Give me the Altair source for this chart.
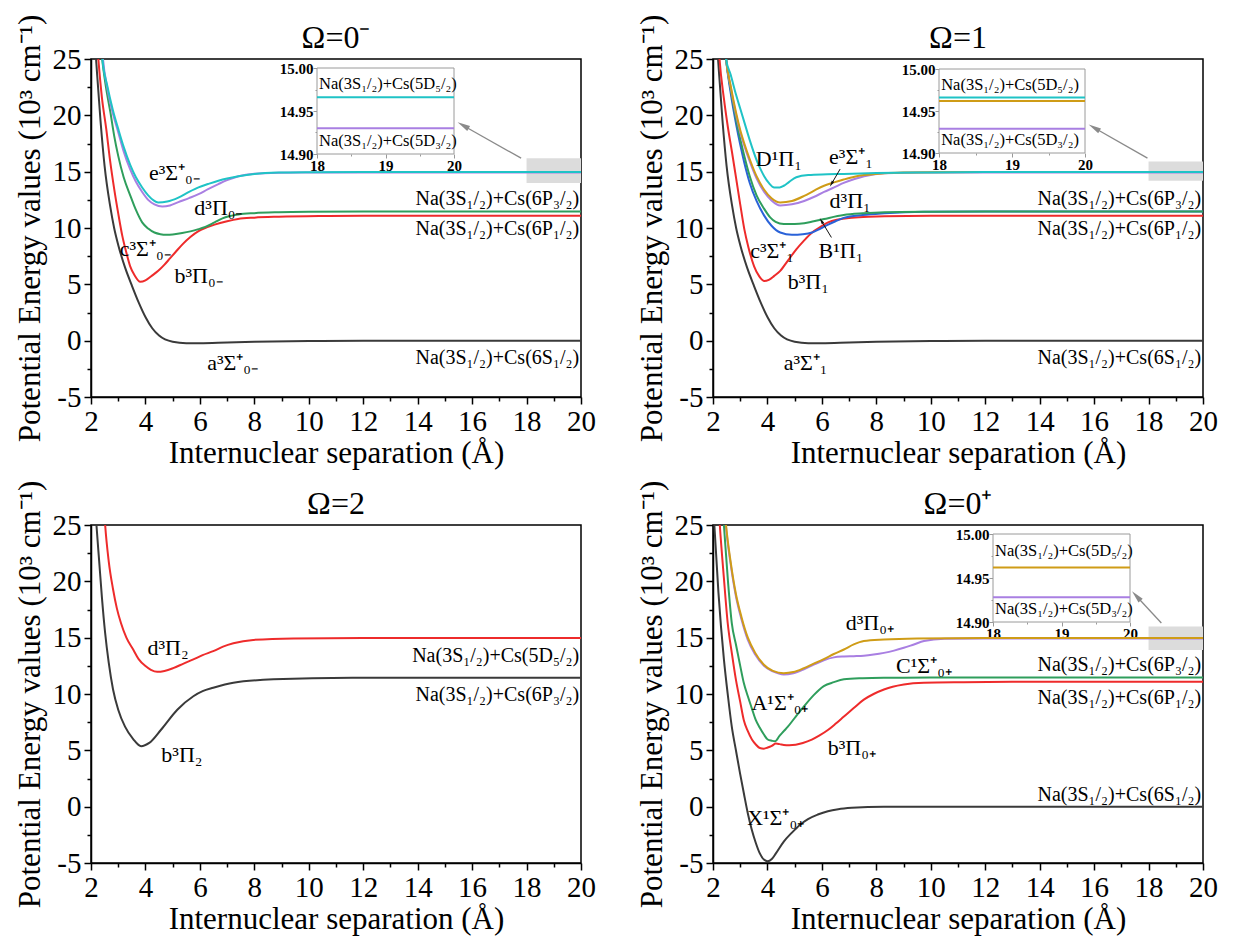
import math
import altair as alt
import pandas as pd

FONT = "Liberation Serif"
W, H = 490, 338
XDOM = [2, 20]
YDOM = [-5, 25]

# ---------------- data: Omega = 0- ----------------
A_R = [2.1, 2.2, 2.35, 2.5, 2.7, 2.85, 3.0, 3.25, 3.5, 3.75, 4.0, 4.25, 4.5, 5.0, 5.5, 6.0, 7.0, 8.0, 10, 12, 20]
A_E = [28, 24.5, 19.5, 15.5, 12.0, 10.0, 8.5, 6.5, 4.9, 3.4, 2.1, 1.1, 0.45, -0.1, -0.22, -0.22, -0.16, -0.1, -0.04, 0, 0]

B0m_R = [2.15, 2.27, 2.4, 2.56, 2.7, 2.85, 3.0, 3.15, 3.3, 3.44, 3.6, 3.81, 4.0, 4.2, 4.47, 4.7, 4.9, 5.1, 5.36, 5.65, 5.95, 6.25, 6.54, 7.0, 7.4, 8.0, 8.9, 10.4, 12, 20]
B0m_E = [29, 25, 21.6, 18.8, 16.0, 13.5, 11.3, 9.3, 7.8, 6.6, 5.8, 5.22, 5.35, 5.7, 6.2, 6.75, 7.3, 7.85, 8.55, 9.2, 9.72, 10.05, 10.3, 10.6, 10.8, 10.92, 11.0, 11.06, 11.08, 11.08]

C0m_R = [2.3, 2.41, 2.55, 2.71, 2.85, 3.0, 3.2, 3.44, 3.65, 3.88, 4.1, 4.33, 4.55, 4.77, 5.0, 5.35, 5.65, 5.95, 6.2, 6.54, 6.83, 7.42, 8.0, 8.9, 10.0, 12, 20]
C0m_E = [28, 25, 22.5, 20.3, 18.2, 16.4, 14.5, 12.9, 11.6, 10.5, 9.95, 9.6, 9.45, 9.4, 9.42, 9.55, 9.7, 9.9, 10.1, 10.5, 10.85, 11.2, 11.32, 11.4, 11.44, 11.46, 11.47]

D0m_R = [2.35, 2.44, 2.6, 2.8, 3.0, 3.2, 3.44, 3.65, 3.88, 4.1, 4.33, 4.62, 4.9, 5.21, 5.6, 5.95, 6.3, 6.68, 7.0, 7.42, 8.0, 8.9, 10, 12, 20]
D0m_E = [28, 25, 22.4, 20.2, 18.5, 16.8, 15.2, 14.1, 13.2, 12.5, 12.1, 11.9, 12.0, 12.3, 12.65, 13.0, 13.45, 13.9, 14.25, 14.6, 14.82, 14.9, 14.925, 14.928, 14.928]

E0m_R = [2.33, 2.42, 2.6, 2.8, 3.0, 3.2, 3.44, 3.65, 3.88, 4.1, 4.3, 4.47, 4.8, 5.21, 5.6, 5.95, 6.3, 6.68, 7.0, 7.42, 8.0, 8.9, 10, 12, 20]
E0m_E = [28, 25, 22.6, 20.5, 18.8, 17.2, 15.6, 14.5, 13.6, 12.9, 12.45, 12.27, 12.35, 12.7, 13.2, 13.6, 13.9, 14.2, 14.4, 14.6, 14.8, 14.92, 14.95, 14.966, 14.966]

# ---------------- data: Omega = 1 ----------------
B1_R = [2.14, 2.24, 2.4, 2.55, 2.7, 2.85, 3.0, 3.15, 3.3, 3.51, 3.7, 3.88, 4.05, 4.25, 4.47, 4.75, 5.06, 5.35, 5.64, 5.95, 6.23, 6.6, 7.1, 7.7, 8.3, 10, 12, 20]
B1_E = [29, 25, 21.5, 18.9, 16.7, 14.4, 12.1, 9.9, 8.3, 6.6, 5.7, 5.3, 5.4, 5.75, 6.2, 7.1, 8.1, 8.9, 9.6, 10.1, 10.5, 10.75, 10.9, 11.0, 11.05, 11.08, 11.08, 11.08]

BB1_R = [2.38, 2.48, 2.65, 2.85, 3.0, 3.15, 3.35, 3.6, 3.88, 4.15, 4.47, 4.9, 5.3, 5.64, 5.95, 6.23, 6.5, 6.8, 7.5, 8.3, 9.76, 12, 20]
BB1_E = [28, 25, 22.0, 19.2, 17.4, 15.8, 14.0, 12.4, 11.1, 10.2, 9.6, 9.4, 9.45, 9.6, 9.95, 10.3, 10.6, 10.9, 11.15, 11.3, 11.44, 11.47, 11.47]

C1_R = [2.38, 2.48, 2.65, 2.85, 3.0, 3.15, 3.35, 3.6, 3.88, 4.1, 4.3, 4.6, 5.0, 5.35, 5.7, 6.08, 6.8, 7.5, 8.3, 10, 12, 20]
C1_E = [28, 25, 22.3, 19.6, 17.9, 16.4, 14.6, 12.9, 11.7, 10.95, 10.55, 10.35, 10.35, 10.42, 10.6, 10.8, 11.15, 11.3, 11.4, 11.45, 11.47, 11.47]

D1_R = [2.38, 2.48, 2.65, 2.85, 3.0, 3.15, 3.35, 3.6, 3.88, 4.15, 4.47, 4.9, 5.35, 5.7, 6.08, 6.45, 6.8, 7.2, 7.55, 8.3, 9.76, 12, 20]
D1_E = [28, 25, 22.5, 20.0, 18.5, 17.3, 15.9, 14.4, 13.2, 12.45, 12.0, 12.1, 12.4, 12.75, 13.2, 13.6, 14.0, 14.35, 14.6, 14.87, 14.93, 14.928, 14.928]

E1_R = [2.38, 2.48, 2.65, 2.85, 3.0, 3.15, 3.35, 3.6, 3.88, 4.15, 4.47, 4.9, 5.35, 5.7, 6.08, 6.45, 6.8, 7.2, 7.55, 8.3, 9.0, 10, 12, 20]
E1_E = [28, 25, 22.6, 20.2, 18.7, 17.5, 16.1, 14.6, 13.4, 12.65, 12.27, 12.4, 12.85, 13.3, 13.75, 14.05, 14.3, 14.55, 14.7, 14.87, 14.93, 14.955, 14.962, 14.962]

DD1_R = [2.38, 2.48, 2.65, 2.85, 3.0, 3.15, 3.35, 3.59, 3.75, 3.88, 4.05, 4.25, 4.45, 4.6, 4.8, 5.06, 5.5, 6.2, 6.8, 8.0, 9.76, 12, 20]
DD1_E = [28.5, 25, 23.6, 21.8, 20.6, 19.4, 17.8, 16.1, 15.2, 14.6, 14.0, 13.6, 13.6, 13.75, 14.1, 14.5, 14.7, 14.76, 14.8, 14.88, 14.93, 14.966, 14.966]

# ---------------- data: Omega = 2 ----------------
B2_R = [2.1, 2.2, 2.3, 2.4, 2.52, 2.65, 2.81, 3.0, 3.25, 3.55, 3.84, 4.14, 4.58, 5.17, 5.76, 6.1, 6.49, 7.23, 8.7, 11.6, 20]
B2_E = [29, 25, 21.8, 18.6, 15.4, 12.8, 10.4, 8.6, 7.1, 6.0, 5.37, 5.66, 6.85, 8.6, 9.8, 10.25, 10.55, 11.0, 11.3, 11.44, 11.45]

D2_R = [2.42, 2.52, 2.65, 2.81, 2.95, 3.1, 3.3, 3.55, 3.75, 3.99, 4.2, 4.43, 4.7, 5.02, 5.4, 5.76, 6.1, 6.49, 6.85, 7.23, 7.96, 9.44, 12, 20]
D2_E = [29, 25, 21.8, 19.3, 17.6, 16.3, 15.0, 13.95, 13.1, 12.5, 12.15, 11.97, 12.05, 12.3, 12.7, 13.07, 13.45, 13.8, 14.2, 14.5, 14.8, 14.93, 14.96, 14.96]

# ---------------- data: Omega = 0+ ----------------
X0p_R = [1.98, 2.05, 2.2, 2.4, 2.55, 2.69, 2.85, 2.99, 3.14, 3.28, 3.42, 3.57, 3.72, 3.87, 4.01, 4.16, 4.31, 4.6, 4.9, 5.2, 5.49, 5.85, 6.22, 6.6, 7.1, 8.28, 10, 20]
X0p_E = [28, 25, 19.0, 13.1, 9.8, 7.1, 4.9, 3.0, 1.1, -0.6, -2.0, -3.2, -4.15, -4.7, -4.85, -4.65, -4.15, -3.1, -2.3, -1.6, -1.1, -0.7, -0.4, -0.22, -0.1, 0, 0, 0]

B0p_R = [2.15, 2.25, 2.4, 2.54, 2.7, 2.84, 3.0, 3.13, 3.28, 3.43, 3.58, 3.72, 3.87, 4.01, 4.16, 4.31, 4.45, 4.6, 4.8, 5.04, 5.3, 5.63, 5.9, 6.22, 6.5, 6.81, 7.17, 7.54, 7.9, 8.28, 8.6, 9.01, 9.75, 11.2, 13, 20]
B0p_E = [29, 25, 20.3, 16.3, 13.5, 11.3, 9.3, 7.7, 6.7, 5.96, 5.5, 5.2, 5.15, 5.25, 5.4, 5.6, 5.55, 5.48, 5.46, 5.5, 5.65, 5.95, 6.3, 6.8, 7.35, 8.0, 8.75, 9.5, 10.0, 10.4, 10.65, 10.85, 11.0, 11.05, 11.08, 11.08]

A0p_R = [2.3, 2.4, 2.55, 2.69, 2.85, 3.0, 3.13, 3.28, 3.43, 3.57, 3.72, 3.87, 4.01, 4.16, 4.28, 4.45, 4.6, 4.75, 5.04, 5.34, 5.7, 6.07, 6.44, 6.81, 7.5, 8.28, 10, 20]
A0p_E = [28, 25, 20.0, 16.3, 14.3, 12.5, 11.0, 9.8, 8.7, 7.7, 7.0, 6.4, 5.96, 5.85, 5.8, 6.3, 6.7, 7.1, 8.0, 8.9, 9.9, 10.7, 11.05, 11.3, 11.4, 11.44, 11.46, 11.47]

C0p_R = [2.37, 2.47, 2.65, 2.84, 3.05, 3.28, 3.55, 3.87, 4.2, 4.6, 4.95, 5.34, 5.7, 6.07, 6.44, 6.81, 7.17, 7.54, 7.9, 8.28, 8.65, 9.01, 9.38, 9.75, 10.5, 12, 20]
C0p_E = [28, 25, 21.5, 18.7, 16.6, 14.8, 13.5, 12.5, 12.0, 11.73, 11.85, 12.2, 12.6, 13.0, 13.25, 13.33, 13.36, 13.4, 13.5, 13.65, 13.85, 14.1, 14.4, 14.7, 14.9, 14.928, 14.928]

D0p_R = [2.37, 2.47, 2.65, 2.84, 3.05, 3.28, 3.55, 3.87, 4.2, 4.6, 4.95, 5.34, 5.7, 6.07, 6.44, 6.81, 7.17, 7.54, 8.28, 9.5, 12, 20]
D0p_E = [28.2, 25.2, 21.7, 18.9, 16.8, 15.0, 13.65, 12.6, 12.05, 11.85, 11.95, 12.3, 12.7, 13.1, 13.55, 13.95, 14.4, 14.7, 14.84, 14.93, 14.962, 14.962]

# ---------------- labels ----------------
NA_6S = "Na(3S₁/₂)+Cs(6S₁/₂)"
NA_6P1 = "Na(3S₁/₂)+Cs(6P₁/₂)"
NA_6P3 = "Na(3S₁/₂)+Cs(6P₃/₂)"
NA_5D3 = "Na(3S₁/₂)+Cs(5D₃/₂)"
NA_5D5 = "Na(3S₁/₂)+Cs(5D₅/₂)"

TL_STATES = [("e³Σ⁺₀₋", 5.06, 14.9), ("d³Π₀₋", 6.68, 11.8), ("c³Σ⁺₀₋", 3.99, 8.1),
             ("b³Π₀₋", 5.95, 5.75), ("a³Σ⁺₀₋", 7.2, -2.0)]
TL_ASYM = [(NA_6P3, 12.6), (NA_6P1, 9.9), (NA_6S, -1.5)]
TR_STATES = [("D¹Π₁", 4.42, 16.1), ("e³Σ⁺₁", 7.07, 16.3), ("d³Π₁", 7.04, 12.4),
             ("c³Σ⁺₁", 4.17, 8.0), ("B¹Π₁", 6.7, 8.0), ("b³Π₁", 5.5, 5.2), ("a³Σ⁺₁", 5.4, -1.95)]
TR_ASYM = [(NA_6P3, 12.56), (NA_6P1, 9.9), (NA_6S, -1.5)]
BL_STATES = [("d³Π₂", 4.83, 14.1), ("b³Π₂", 5.34, 4.6)]
BL_ASYM = [(NA_5D5, 13.4), (NA_6P3, 9.87)]
BR_STATES = [("d³Π₀₊", 7.76, 16.3), ("C¹Σ⁺₀₊", 9.75, 12.5), ("A¹Σ⁺₀₊", 4.46, 9.2),
             ("b³Π₀₊", 7.1, 5.2), ("X¹Σ⁺₀₊", 4.3, -1.0)]
BR_ASYM = [(NA_6P3, 12.53), (NA_6P1, 9.66), (NA_6S, 1.07)]

# inset asymptote levels (10^3 cm^-1)
TL_INSET = [("cyan", 14.966), ("purple", 14.930)]
TR_INSET = [("cyan", 14.966), ("gold", 14.962), ("purple", 14.929)]
BR_INSET = [("gold", 14.962), ("purple", 14.928)]

COLORS = {"black": "#3a3a3a", "red": "#ee2b2b", "green": "#2f9e5c", "purple": "#a97fe2",
          "cyan": "#1fc3c6", "blue": "#2a62d8", "gold": "#cf9c17"}

# ---------------- axes ----------------
X_AXIS = alt.Axis(values=list(range(2, 21)),
                  labelExpr="datum.value % 2 === 0 ? datum.label : ''",
                  tickSize={"condition": {"test": "datum.value % 2 === 0", "value": 7}, "value": 4},
                  labelOverlap=False, labelFlush=False, labelPadding=3, titlePadding=2,
                  title="Internuclear separation (Å)")
Y_AXIS = alt.Axis(values=[-5 + 2.5 * i for i in range(13)],
                  labelExpr="datum.value % 5 === 0 ? replace(datum.label, '\u2212', '-') : ''",
                  tickSize={"condition": {"test": "datum.value % 5 === 0", "value": 7}, "value": 4},
                  labelOverlap=False, labelFlush=False, labelPadding=3, titlePadding=6,
                  title="Potential Energy values (10³ cm⁻¹)")


def xe(field):
    return alt.X(f"{field}:Q", scale=alt.Scale(domain=XDOM, nice=False, zero=False), axis=X_AXIS)


def ye(field):
    return alt.Y(f"{field}:Q", scale=alt.Scale(domain=YDOM, nice=False, zero=False), axis=Y_AXIS)


def curves_df(curves):
    rows = []
    for name, col, R, E in curves:
        for r, e in zip(R, E):
            rows.append({"r": r, "E": e, "state": name, "c": COLORS[col]})
    return pd.DataFrame(rows)


def arrow_layers(tail, head, color, width, size):
    dxp = (head[0] - tail[0]) * W / 18.0
    dyp = -(head[1] - tail[1]) * H / 30.0
    ang = math.degrees(math.atan2(dxp, -dyp)) % 360
    seg = pd.DataFrame({"r": [tail[0], head[0]], "E": [tail[1], head[1]]})
    tip = pd.DataFrame({"r": [head[0]], "E": [head[1]]})
    line = alt.Chart(seg).mark_line(color=color, strokeWidth=width).encode(x=xe("r"), y=ye("E"))
    pt = alt.Chart(tip).mark_point(shape="M0,-1L-0.45,1L0.45,1Z", filled=True, opacity=1,
                                   color=color, size=size, angle=ang).encode(x=xe("r"), y=ye("E"))
    return [line, pt]


def inset_layer(levels, px):
    L, R, T, B = px
    xs = alt.Scale(domain=[18, 20], range=[L, R], nice=False, zero=False)
    ys = alt.Scale(domain=[14.9, 15.0], range=[B, T], nice=False, zero=False)
    ixa = alt.Axis(orient="bottom", offset=B - H, values=[18, 18.5, 19, 19.5, 20], format=".0f",
                   labelExpr="datum.value % 1 === 0 ? datum.label : ''",
                   tickSize={"condition": {"test": "datum.value % 1 === 0", "value": 4}, "value": 2},
                   labelFont=FONT, labelFontSize=15, labelFontWeight="bold", labelPadding=0,
                   labelOverlap=False, labelFlush=False, domain=False,
                   tickColor="#999999", tickWidth=1, title=None, grid=False)
    iya = alt.Axis(orient="left", offset=-L, values=[14.9, 14.925, 14.95, 14.975, 15.0], format=".2f",
                   labelExpr="abs(datum.value*20 - round(datum.value*20)) < 0.001 ? datum.label : ''",
                   tickSize={"condition": {"test": "abs(datum.value*20 - round(datum.value*20)) < 0.001", "value": 4}, "value": 2},
                   labelFont=FONT, labelFontSize=15, labelFontWeight="bold", labelPadding=0,
                   labelOverlap=False, labelFlush=False, domain=False,
                   tickColor="#999999", tickWidth=1, title=None, grid=False)
    X = lambda f: alt.X(f"{f}:Q", scale=xs, axis=ixa)
    Y = lambda f: alt.Y(f"{f}:Q", scale=ys, axis=iya)
    frame = alt.Chart(pd.DataFrame({"a": [18], "b": [20], "c": [14.9], "d": [15.0]})).mark_rect(
        fill="white", stroke="#9a9a9a", strokeWidth=1).encode(x=X("a"), x2="b", y=Y("c"), y2="d")
    rows = []
    for i, (col, v) in enumerate(levels):
        rows += [{"r": 18, "E": v, "k": i, "c": COLORS[col]}, {"r": 20, "E": v, "k": i, "c": COLORS[col]}]
    lines = alt.Chart(pd.DataFrame(rows)).mark_line(strokeWidth=2).encode(
        x=X("r"), y=Y("E"), color=alt.Color("c:N", scale=None), detail="k:N")
    txt = pd.DataFrame({"r": [18.03, 18.03], "E": [14.981, 14.915], "t": [NA_5D5, NA_5D3]})
    texts = alt.Chart(txt).mark_text(font=FONT, fontSize=16.5, align="left", baseline="middle",
                                     color="black").encode(x=X("r"), y=Y("E"), text="t:N")
    return alt.layer(frame, lines, texts)


def panel(title, curves, states, asym, box=None, arrow=None, inset=None, pointers=()):
    layers = []
    if box is not None:
        bdf = pd.DataFrame({"x1": [18], "x2": [20], "y1": [box[0]], "y2": [box[1]]})
        layers.append(alt.Chart(bdf).mark_rect(color="#dcdcdc").encode(
            x=xe("x1"), x2="x2", y=ye("y1"), y2="y2"))
    if arrow is not None:
        layers += arrow_layers(arrow[0], arrow[1], "#8a8a8a", 1.3, 160)
    layers.append(alt.Chart(curves_df(curves)).mark_line(strokeWidth=2, interpolate="monotone", clip=True).encode(
        x=xe("r"), y=ye("E"), color=alt.Color("c:N", scale=None), detail="state:N"))
    sdf = pd.DataFrame({"t": [s[0] for s in states], "r": [s[1] for s in states], "E": [s[2] for s in states]})
    layers.append(alt.Chart(sdf).mark_text(font=FONT, fontSize=22, align="center", baseline="middle",
                                           color="black").encode(x=xe("r"), y=ye("E"), text="t:N"))
    adf = pd.DataFrame({"t": [a[0] for a in asym], "r": [19.93] * len(asym), "E": [a[1] for a in asym]})
    layers.append(alt.Chart(adf).mark_text(font=FONT, fontSize=20, align="right", baseline="middle",
                                           color="black").encode(x=xe("r"), y=ye("E"), text="t:N"))
    for tail, head in pointers:
        layers += arrow_layers(tail, head, "#111111", 1.0, 40)
    main = alt.layer(*layers)
    if inset is not None:
        ch = alt.layer(main, inset_layer(*inset)).resolve_scale(x="independent", y="independent")
    else:
        ch = main
    return ch.properties(width=W, height=H,
                         title=alt.Title(title, font=FONT, fontSize=32, fontWeight="normal",
                                         anchor="middle", frame="group", offset=6, dy=47,
                                         color="black"))


pTL = panel("Ω=0⁻",
            [("a", "black", A_R, A_E), ("b", "red", B0m_R, B0m_E), ("c", "green", C0m_R, C0m_E),
             ("d", "purple", D0m_R, D0m_E), ("e", "cyan", E0m_R, E0m_E)],
            TL_STATES, TL_ASYM, box=(14.0, 16.2), arrow=((17.8, 16.2), (15.67, 19.1)),
            inset=(TL_INSET, (226, 363, 9, 95)))
pTR = panel("Ω=1",
            [("a", "black", A_R, A_E), ("b", "red", B1_R, B1_E), ("B", "blue", BB1_R, BB1_E),
             ("c", "green", C1_R, C1_E), ("d", "purple", D1_R, D1_E), ("e", "gold", E1_R, E1_E),
             ("D", "cyan", DD1_R, DD1_E)],
            TR_STATES, TR_ASYM, box=(14.2, 15.9), arrow=((17.96, 16.2), (16.0, 18.9)),
            inset=(TR_INSET, (226, 372, 10, 94)),
            pointers=[((6.67, 15.23), (6.35, 13.9)), ((6.35, 9.16), (5.98, 10.64))])
pBL = panel("Ω=2",
            [("b", "black", B2_R, B2_E), ("d", "red", D2_R, D2_E)],
            BL_STATES, BL_ASYM)
pBR = panel("Ω=0⁺",
            [("X", "black", X0p_R, X0p_E), ("b", "red", B0p_R, B0p_E), ("A", "green", A0p_R, A0p_E),
             ("C", "purple", C0p_R, C0p_E), ("d", "gold", D0p_R, D0p_E)],
            BR_STATES, BR_ASYM, box=(13.9, 16.0), arrow=((18.47, 16.3), (17.55, 18.7)),
            inset=(BR_INSET, (280, 417, 9, 97)))

chart = alt.concat(pTL, pTR, pBL, pBR, columns=2, spacing={"row": 128, "column": 132},
                   bounds="flush").properties(
    padding={"left": 5, "top": 5, "right": 5, "bottom": 5}
).configure_axis(
    labelFont=FONT, labelFontSize=29, labelColor="black",
    titleFont=FONT, titleFontSize=31, titleFontWeight="normal", titleColor="black",
    domainColor="black", domainWidth=1.5, tickColor="black", tickWidth=1.5, grid=False
).configure_view(stroke="black", strokeWidth=1.5)

chart.save("out.html", embed_options={"renderer": "svg", "actions": False})
